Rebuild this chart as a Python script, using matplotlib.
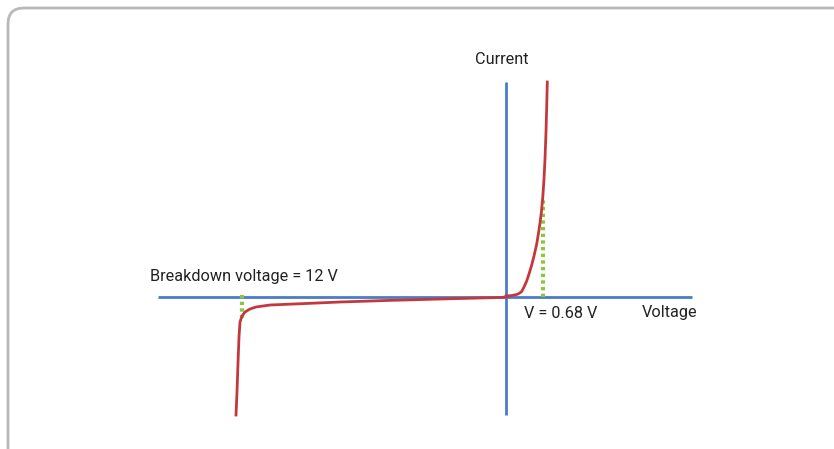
import matplotlib
matplotlib.use("Agg")
from matplotlib import pyplot as plt
from matplotlib.patches import FancyBboxPatch

# schematic I-V curve of a diode, units are arbitrary
fwd_v = [0, 6, 10.7, 13, 15.7, 18, 20.7, 23, 25.7, 28, 30.7, 32.5, 34, 35.5, 36.8, 38, 39, 40, 40.8, 41.3]
fwd_i = [1, 1.5, 2.5, 3.5, 5.5, 10, 16, 23, 32, 41, 53, 64, 74, 86, 100, 118, 138, 165, 194, 215]

rev_v = [0, -6, -66, -120, -166, -200, -236, -250, -256, -261, -264, -266, -267, -268, -269, -270]
rev_i = [0, -0.5, -2, -3.5, -5, -6.5, -8, -10, -12, -15, -19, -25, -40, -66, -95, -118]

axis_v = [-348, 186]
axis_i = [-118, 215]

bias_v = 37
bias_i = 100
breakdown_v = -265
breakdown_i = -21

red = '#c4383c'
blue = '#4a7cc8'
green = '#8cc63f'

plt.rcParams['font.family'] = ['Roboto', 'DejaVu Sans']

fig = plt.figure(figsize=(8.34, 4.49), dpi=100)
ax = fig.add_axes([0, 0, 1, 1])
ax.set_xlim(-506, 328)
ax.set_ylim(-152, 297)
ax.axis('off')

# rounded frame around the figure
frame = FancyBboxPatch((-498, -200), 900, 489, boxstyle='round,pad=0,rounding_size=16',
                       fill=False, edgecolor='#b9b9bb', linewidth=2)
ax.add_patch(frame)

ax.plot(axis_v, [0, 0], color=blue, lw=2, solid_capstyle='butt', zorder=2)
ax.plot([0, 0], axis_i, color=blue, lw=2, solid_capstyle='butt', zorder=2)

ax.plot([bias_v, bias_v], [0, bias_i], color=green, lw=3, ls=(0, (0.8, 0.8)), zorder=3)
ax.plot([breakdown_v + 1, breakdown_v + 1], [2, breakdown_i], color=green, lw=3, ls=(0, (0.8, 0.8)), zorder=3)

ax.plot(fwd_v, fwd_i, color=red, lw=2, solid_joinstyle='round', zorder=4)
ax.plot(rev_v, rev_i, color=red, lw=2, solid_joinstyle='round', zorder=4)

fs = 11.7
ax.text(-356, 21, 'Breakdown voltage = 12 V', fontsize=fs, color='#222222', va='center', ha='left')
ax.text(-31, 237, 'Current', fontsize=fs, color='#222222', va='center', ha='left')
ax.text(18, -16, 'V = 0.68 V', fontsize=fs, color='#222222', va='center', ha='left')
ax.text(136, -15, 'Voltage', fontsize=fs, color='#222222', va='center', ha='left')

fig.savefig('out.png', dpi=100)
